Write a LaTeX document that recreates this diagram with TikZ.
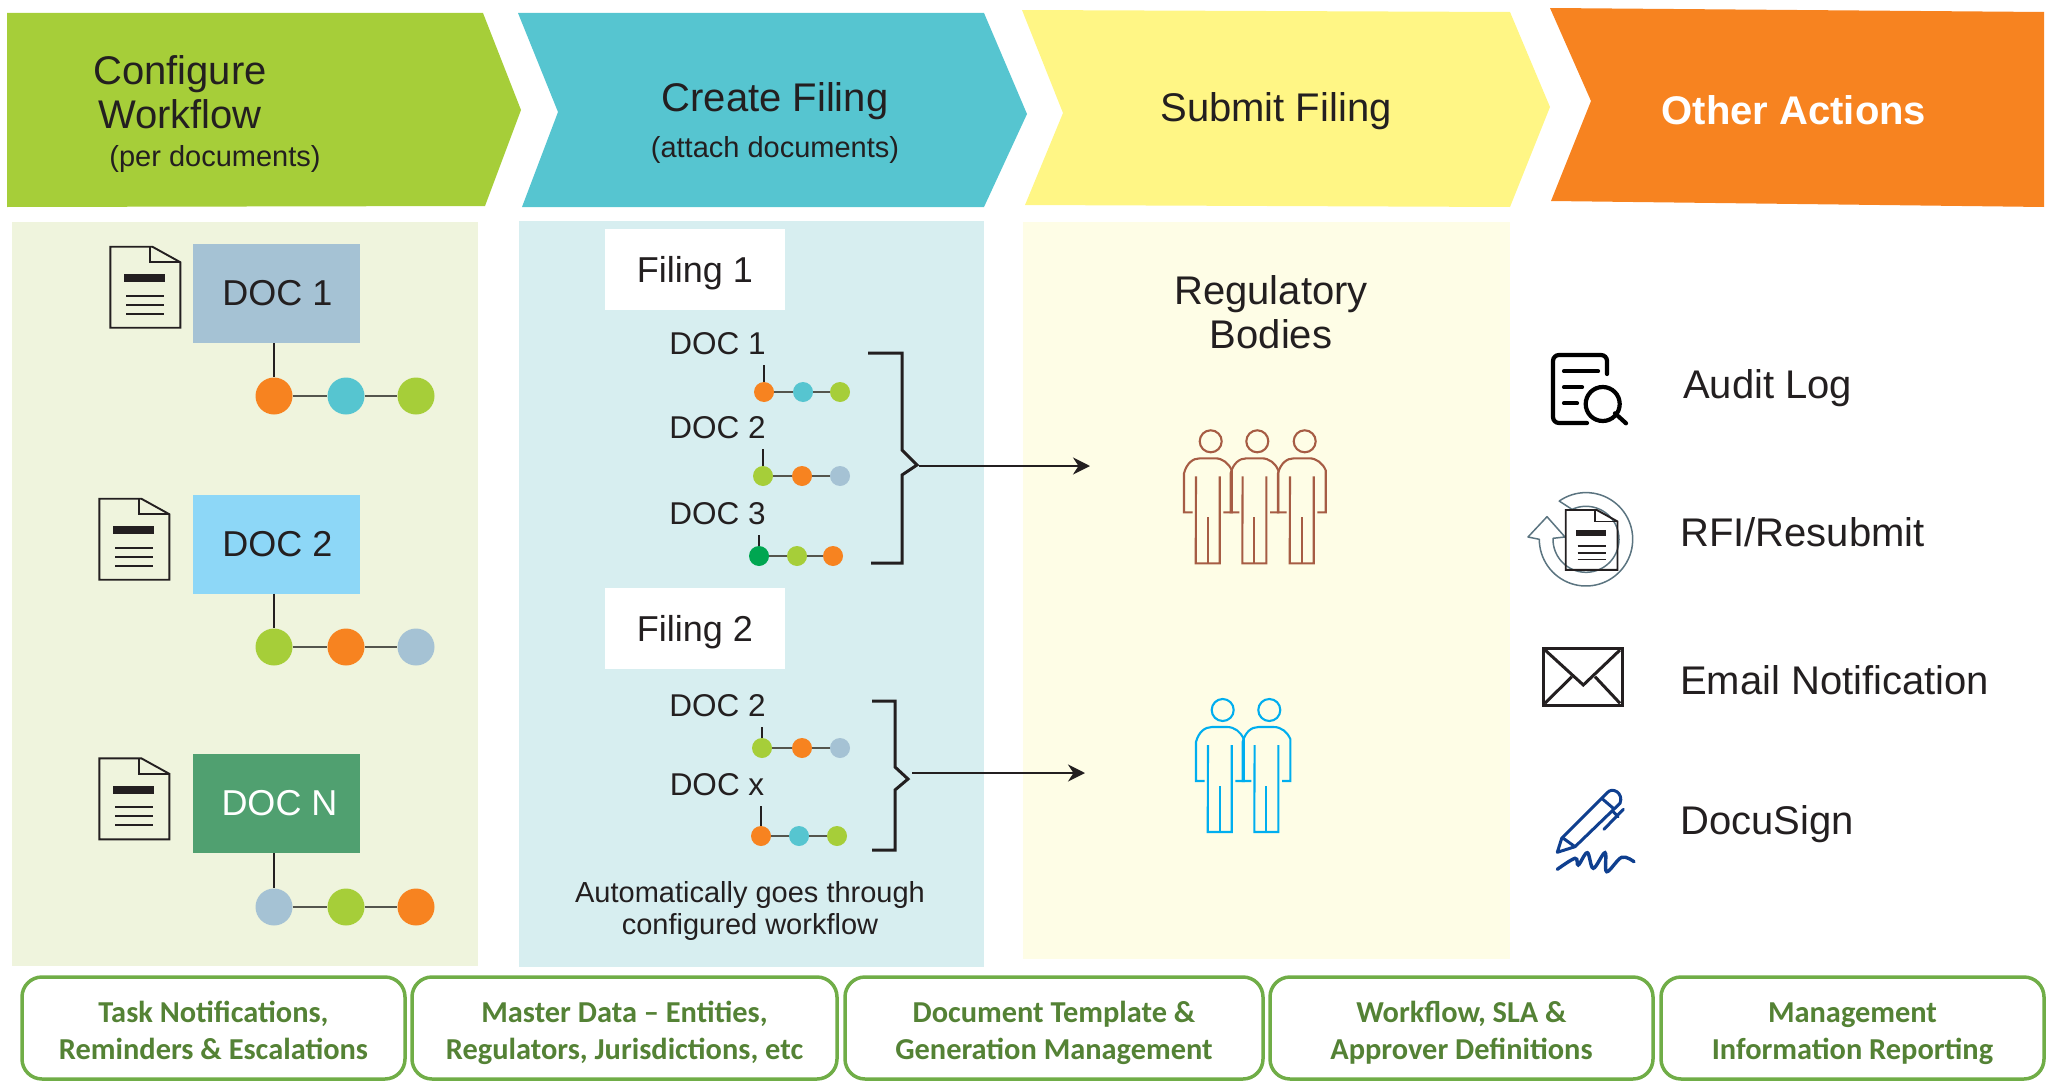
\documentclass[tikz,border=0pt]{standalone}
\usepackage{fontspec}
\setmainfont{Liberation Sans}
\newfontfamily\carlitofont{Carlito}
\usepackage{xcolor}
\usetikzlibrary{arrows.meta}
\definecolor{stepgreen}{HTML}{A6CE39}
\definecolor{stepteal}{HTML}{56C5D0}
\definecolor{stepyellow}{HTML}{FFF685}
\definecolor{steporange}{HTML}{F78320}
\definecolor{panelgreen}{HTML}{EFF4DD}
\definecolor{panelteal}{HTML}{D7EEF0}
\definecolor{panelyellow}{HTML}{FEFDE6}
\definecolor{docblue}{HTML}{A5C2D4}
\definecolor{docsky}{HTML}{8DD7F7}
\definecolor{docgreen}{HTML}{50A070}
\definecolor{dotgreen}{HTML}{00A651}
\definecolor{inkdark}{HTML}{231F20}
\definecolor{peoplebrown}{HTML}{A65C44}
\definecolor{peopleblue}{HTML}{00AEEF}
\definecolor{signblue}{HTML}{0F3F8F}
\definecolor{footline}{HTML}{70AD47}
\definecolor{foottext}{HTML}{548235}
\definecolor{refreshgray}{HTML}{5B7480}
\newcommand{\foothead}{\rule{0pt}{34pt}}
\newcommand{\foottail}{\rule[-8pt]{0pt}{8pt}}
\tikzset{
    headtext/.style={text=inkdark, font=\fontsize{40}{44}\selectfont, inner sep=0pt},
    subtext/.style={text=inkdark, font=\fontsize{29}{32}\selectfont, inner sep=0pt, align=center},
    doctext/.style={text=inkdark, font=\fontsize{36}{40}\selectfont, minimum width=167pt, minimum height=99pt, inner sep=0pt},
    smalldoc/.style={text=inkdark, font=\fontsize{31.5}{36}\selectfont, inner sep=0pt, minimum height=42pt},
    filingbox/.style={fill=white, text=inkdark, font=\fontsize{36}{40}\selectfont, text depth=0pt, minimum width=180pt, minimum height=81pt, inner sep=0pt},
    actiontext/.style={text=inkdark, font=\fontsize{40}{44}\selectfont, inner sep=0pt, anchor=west},
    footbox/.style={draw=footline, line width=3.5pt, fill=white, rounded corners=20pt, minimum height=102pt, inner sep=0pt, align=center,
        text=foottext, font=\carlitofont\bfseries\fontsize{30.4}{36.5}\selectfont},
    bigdot/.style={circle, minimum size=37pt, inner sep=0pt},
    tinydot/.style={circle, minimum size=20pt, inner sep=0pt},
    chainline/.style={draw=black!65!panelgreen, line width=1.6pt},
    stemline/.style={draw=inkdark, line width=1.6pt},
    bracketline/.style={draw=inkdark, line width=3pt},
    flowarrow/.style={draw=inkdark, line width=2.4pt, -{Stealth[length=17pt,width=17pt]}},
    docicon/.pic={
        \draw[draw=inkdark, line width=1.9pt] (0,0) -- (42,0) -- (70,15.5) -- (70,81) -- (0,81) -- cycle;
        \draw[draw=inkdark, line width=1.9pt] (40,0) -- (40,15.5) -- (70,15.5);
        \fill[inkdark] (14,27.5) rectangle (55,35.5);
        \draw[draw=inkdark, line width=1.7pt] (16,49) -- (54,49) (16,58) -- (54,58) (16,67) -- (54,67);
    },
    personicon/.pic={
        \draw[line width=2.1pt] (0,0) circle (11pt);
        \draw[line width=2.1pt] (-18,71) -- (-26.7,71) -- (-26.7,32) .. controls (-24,22) and (-18,17) .. (-10.7,17) -- (4.3,17) .. controls (12,17) and (18,22) .. (21,29) -- (21,71) -- (12.7,71);
        \draw[line width=2.1pt] (-14.7,35) -- (-15,122) -- (9,122) -- (9,35);
        \draw[line width=2.1pt] (-3,76) -- (-3,122);
    }
}
\begin{document}
\begin{tikzpicture}[x=1pt,y=-1pt]
    \useasboundingbox (0,0) rectangle (2057,1081);

    \fill[stepgreen] (7,13) -- (483,13) -- (521,110) -- (485,206) -- (7,207) -- cycle;
    \fill[stepteal] (518,13) -- (984,13) -- (1027,114) -- (984,207) -- (522,207) -- (558,112) -- cycle;
    \fill[stepyellow] (1022,10) -- (1510,12) -- (1550,107) -- (1510,207) -- (1025,205) -- (1063,113) -- cycle;
    \fill[steporange] (1550,8) -- (2044,12) -- (2044,207) -- (1551,201) -- (1591,101) -- cycle;
    \fill[panelgreen] (12,222) rectangle (478,966);
    \fill[panelteal] (519,221) rectangle (984,967);
    \fill[panelyellow] (1023,222) rectangle (1510,959);

    \node[headtext] (confa) at (180,74) {Configure};
    \node[headtext] (confb) at (180,114) {Workflow};
    \node[subtext] (confc) at (215,159) {(per documents)};
    \node[headtext] (createa) at (775,101) {Create Filing};
    \node[subtext] (createb) at (775,150) {(attach documents)};
    \node[headtext] (submit) at (1276,111) {Submit Filing};
    \node[headtext, text=white, font=\bfseries\fontsize{40}{44}\selectfont] (other) at (1794,110) {Other Actions};

    \pic at (110.3,246.7) {docicon};
    \pic at (99.3,498.7) {docicon};
    \pic at (99.3,758.3) {docicon};
    \node[doctext, fill=docblue] (doca) at (276.5,293.5) {\hspace{2pt}DOC 1};
    \node[doctext, fill=docsky] (docb) at (276.5,544) {\hspace{2pt}DOC 2};
    \node[doctext, fill=docgreen, text=white] (docn) at (276.5,803.5) {\hspace{6pt}DOC N};

    \node[bigdot, fill=steporange] (aone) at (274,396) {};
    \node[bigdot, fill=stepteal] (atwo) at (346,396) {};
    \node[bigdot, fill=stepgreen] (athree) at (416,396) {};
    \node[bigdot, fill=stepgreen] (bone) at (274,647) {};
    \node[bigdot, fill=steporange] (btwo) at (346,647) {};
    \node[bigdot, fill=docblue] (bthree) at (416,647) {};
    \node[bigdot, fill=docblue] (none) at (274,907) {};
    \node[bigdot, fill=stepgreen] (ntwo) at (346,907) {};
    \node[bigdot, fill=steporange] (nthree) at (416,907) {};
    \draw[chainline] (aone) -- (atwo) -- (athree);
    \draw[chainline] (bone) -- (btwo) -- (bthree);
    \draw[chainline] (none) -- (ntwo) -- (nthree);
    \draw[stemline] (doca.south -| aone) -- (aone);
    \draw[stemline] (docb.south -| bone) -- (bone);
    \draw[stemline] (docn.south -| none) -- (none);

    \node[filingbox] (filea) at (695,269) {Filing 1};
    \node[filingbox] (fileb) at (695,628) {Filing 2};
    \node[smalldoc] (fadoc) at (717.5,344) {DOC 1};
    \node[smalldoc] (fbdoc) at (717.5,428) {DOC 2};
    \node[smalldoc] (fcdoc) at (717.5,514) {DOC 3};
    \node[smalldoc] (gadoc) at (717.5,706) {DOC 2};
    \node[smalldoc] (gbdoc) at (717,785) {DOC x};

    \node[tinydot, fill=steporange] (faone) at (764,392) {};
    \node[tinydot, fill=stepteal] (fatwo) at (803,392) {};
    \node[tinydot, fill=stepgreen] (fathree) at (840,392) {};
    \node[tinydot, fill=stepgreen] (fbone) at (763,476) {};
    \node[tinydot, fill=steporange] (fbtwo) at (802,476) {};
    \node[tinydot, fill=docblue] (fbthree) at (840,476) {};
    \node[tinydot, fill=dotgreen] (fcone) at (759,556) {};
    \node[tinydot, fill=stepgreen] (fctwo) at (797,556) {};
    \node[tinydot, fill=steporange] (fcthree) at (833,556) {};
    \node[tinydot, fill=stepgreen] (gaone) at (762,748) {};
    \node[tinydot, fill=steporange] (gatwo) at (802,748) {};
    \node[tinydot, fill=docblue] (gathree) at (840,748) {};
    \node[tinydot, fill=steporange] (gbone) at (761,836) {};
    \node[tinydot, fill=stepteal] (gbtwo) at (799,836) {};
    \node[tinydot, fill=stepgreen] (gbthree) at (837,836) {};
    \draw[chainline] (faone) -- (fatwo) -- (fathree);
    \draw[chainline] (fbone) -- (fbtwo) -- (fbthree);
    \draw[chainline] (fcone) -- (fctwo) -- (fcthree);
    \draw[chainline] (gaone) -- (gatwo) -- (gathree);
    \draw[chainline] (gbone) -- (gbtwo) -- (gbthree);
    \draw[stemline] (fadoc.south -| faone) -- (faone);
    \draw[stemline] (fbdoc.south -| fbone) -- (fbone);
    \draw[stemline] (fcdoc.south -| fcone) -- (fcone);
    \draw[stemline] (gadoc.south -| gaone) -- (gaone);
    \draw[stemline] (gbdoc.south -| gbone) -- (gbone);

    \coordinate (bracea) at (917,465);
    \coordinate (braceb) at (908,779);
    \coordinate (starta) at (919,466);
    \coordinate (startb) at (912,773);
    \coordinate (targeta) at (1090,466);
    \coordinate (targetb) at (1085,773);
    \draw[bracketline] (868,353) -- (902,353) -- (902,450) -- (bracea) -- (902,475) -- (902,563) -- (871,563);
    \draw[bracketline] (872,701) -- (895,701) -- (895,767) -- (braceb) -- (895,790) -- (895,850) -- (872,850);
    \draw[flowarrow] (starta) -- (targeta);
    \draw[flowarrow] (startb) -- (targetb);

    \node[subtext] (autotext) at (750,911) {Automatically goes through\\configured workflow};
    \node[headtext, align=center] (bodies) at (1271,312) {Regulatory\\Bodies};

    \pic[color=peoplebrown] at (1210.7,441.3) {personicon};
    \pic[color=peoplebrown] at (1257.3,441.3) {personicon};
    \pic[color=peoplebrown] at (1304.7,441.3) {personicon};
    \pic[color=peopleblue] at (1222.7,710) {personicon};
    \pic[color=peopleblue] at (1269.3,710) {personicon};

    \draw[draw=black, line width=4.2pt, line cap=round, rounded corners=6pt] (1607,374) -- (1607,355) -- (1553,355) -- (1553,423) -- (1587,423);
    \draw[draw=black, line width=4.2pt, line cap=round] (1564,371.3) -- (1598,371.3) (1564,387.3) -- (1582,387.3) (1564,403.3) -- (1577,403.3);
    \draw[draw=black, line width=4.2pt] (1602.7,404) circle (17pt);
    \draw[draw=black, line width=4.2pt, line cap=round] (1615,413.3) -- (1626,423.3);

    \draw[draw=refreshgray, line width=1.5pt, line join=round] plot[domain=-125:180, samples=70] ({1586+46.7*cos(\x)},{539.3+46.7*sin(\x)}) -- (1528,537) -- (1547,516.7) -- (1565,537) -- (1553,538.3) -- plot[domain=180:-115, samples=70] ({1586+33*cos(\x)},{539.3-33*sin(-\x)}) -- cycle;
    \pic[scale=.74] at (1565.7,510) {docicon};

    \draw[draw=inkdark, line width=3.5pt] (1543.3,648.3) rectangle (1622.3,705.7);
    \draw[draw=inkdark, line width=3pt] (1545,650) -- (1583.3,685) -- (1620,650);
    \draw[draw=inkdark, line width=3pt] (1545,703.3) -- (1571.7,676.7) (1620,703.3) -- (1595,676.7);

    \draw[draw=signblue, line width=3pt, line join=round] (1557.3,852.3) -- (1561.7,838.3) -- (1606.7,793.3) .. controls (1612,786) and (1624,793) .. (1620,803.3) -- (1575,846.7) -- cycle;
    \draw[draw=signblue, line width=3pt] (1563.3,838.3) -- (1575,846.7) (1601.7,798.3) -- (1613.3,808.3);
    \draw[draw=signblue, line width=3pt, line cap=round] (1623.3,809.3) -- (1604,829.3) (1613.3,811.7) -- (1618,816.7);
    \draw[draw=signblue, line width=3.4pt, line cap=round] plot[smooth, tension=.6] coordinates {(1557.3,869.3) (1575,858.3) (1578.3,865) (1587.3,852.7) (1593.3,868.3) (1605,852.7) (1606.7,871.7) (1621.7,857.3) (1634,861.7)};

    \node[actiontext] (audit) at (1683,388) {Audit Log};
    \node[actiontext] (rfi) at (1680,532) {RFI/Resubmit};
    \node[actiontext] (email) at (1680,680) {Email Notification};
    \node[actiontext] (docusign) at (1680,824) {DocuSign};

    \node[footbox, minimum width=383pt] (foota) at (213.5,1028) {\foothead Task Notifications,\\Reminders \& Escalations\foottail};
    \node[footbox, minimum width=425pt] (footb) at (624.5,1028) {\foothead Master Data – Entities,\\Regulators, Jurisdictions, etc\foottail};
    \node[footbox, minimum width=418pt] (footc) at (1054,1028) {\foothead Document Template \&\\Generation Management\foottail};
    \node[footbox, minimum width=383pt] (footd) at (1461.5,1028) {\foothead Workflow, SLA \&\\Approver Definitions\foottail};
    \node[footbox, minimum width=383pt] (foote) at (1852.5,1028) {\foothead Management\\Information Reporting\foottail};
\end{tikzpicture}
\end{document}
